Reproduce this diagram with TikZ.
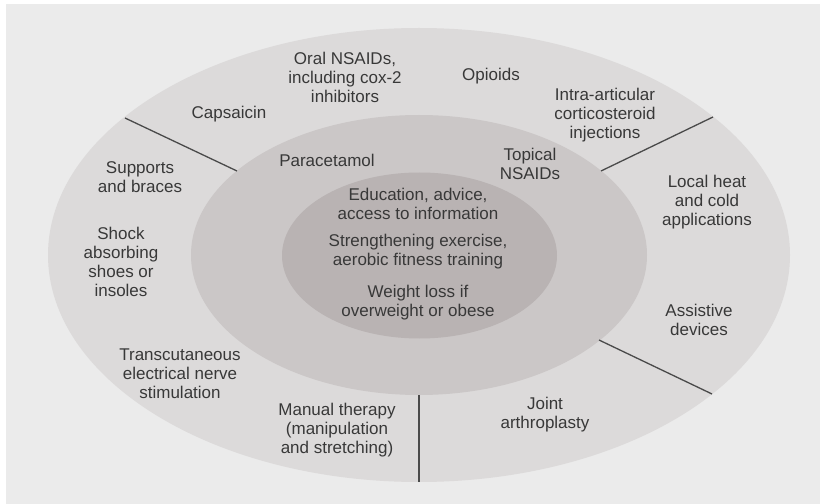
\documentclass[tikz,border=0pt]{standalone}
\usepackage{fontspec}
\setmainfont{Liberation Sans}
\definecolor{bgpanel}{HTML}{EBEBEB}
\definecolor{ringout}{HTML}{DCDADA}
\definecolor{ringmid}{HTML}{CBC7C7}
\definecolor{ringin}{HTML}{B9B3B3}
\definecolor{txt}{HTML}{383838}
\definecolor{divider}{HTML}{4A4A4A}
\tikzset{
  lbl/.style={align=center,text=txt,inner sep=0pt,
    font=\fontsize{17bp}{19bp}\selectfont},
  divline/.style={draw=divider,line width=1.3bp}
}

\begin{document}
\begin{tikzpicture}[x=1bp,y=-1bp]
		\useasboundingbox (0,0) rectangle (820,504);
		\fill[bgpanel](6,4) rectangle (820,504);
		% rings
		\fill[ringout](419,255) ellipse (371 and 227);
		\fill[ringmid](419,255) ellipse (228 and 140);
		\fill[ringin](419.5,255.5) ellipse (137.5 and 83);
		% divider ends
		\coordinate (d1o) at (125,118);
		\coordinate (d1i) at (237,171);
		\coordinate (d2i) at (601,171);
		\coordinate (d2o) at (713,117);
		\coordinate (d3i) at (599,340);
		\coordinate (d3o) at (712,394);
		\coordinate (d4i) at (419,395);
		\coordinate (d4o) at (419,482);
		\draw[divline](d1o) -- (d1i);
		\draw[divline](d2i) -- (d2o);
		\draw[divline](d3i) -- (d3o);
		\draw[divline](d4i) -- (d4o);
		% core
		\node[lbl](edu) at (418,204) {Education, advice,\\access to information};
		\node[lbl](strength) at (418,252) {Strengthening exercise,\\aerobic fitness training};
		\node[lbl](weight) at (418,303) {Weight loss if\\overweight or obese};
		% middle ring
		\node[lbl](para) at (327,160) {Paracetamol};
		\node[lbl](topical) at (530,164) {Topical\\NSAIDs};
		% outer ring
		\node[lbl](oral) at (345,77) {Oral NSAIDs,\\including cox-2\\inhibitors};
		\node[lbl](caps) at (229,114) {Capsaicin};
		\node[lbl](opioids) at (491,76) {Opioids};
		\node[lbl](intra) at (605,115) {Intra-articular\\corticosteroid\\injections};
		\node[lbl](supports) at (140,177) {Supports\\and braces};
		\node[lbl](shock) at (121,262) {Shock\\absorbing\\shoes or\\insoles};
		\node[lbl](heat) at (707,202) {Local heat\\and cold\\applications};
		\node[lbl](assist) at (699,320) {Assistive\\devices};
		\node[lbl](tens) at (180,374) {Transcutaneous\\electrical nerve\\stimulation};
		\node[lbl](manual) at (337,430) {Manual therapy\\(manipulation\\and stretching)};
		\node[lbl](joint) at (545,415) {Joint\\arthroplasty};
\end{tikzpicture}
\end{document}
